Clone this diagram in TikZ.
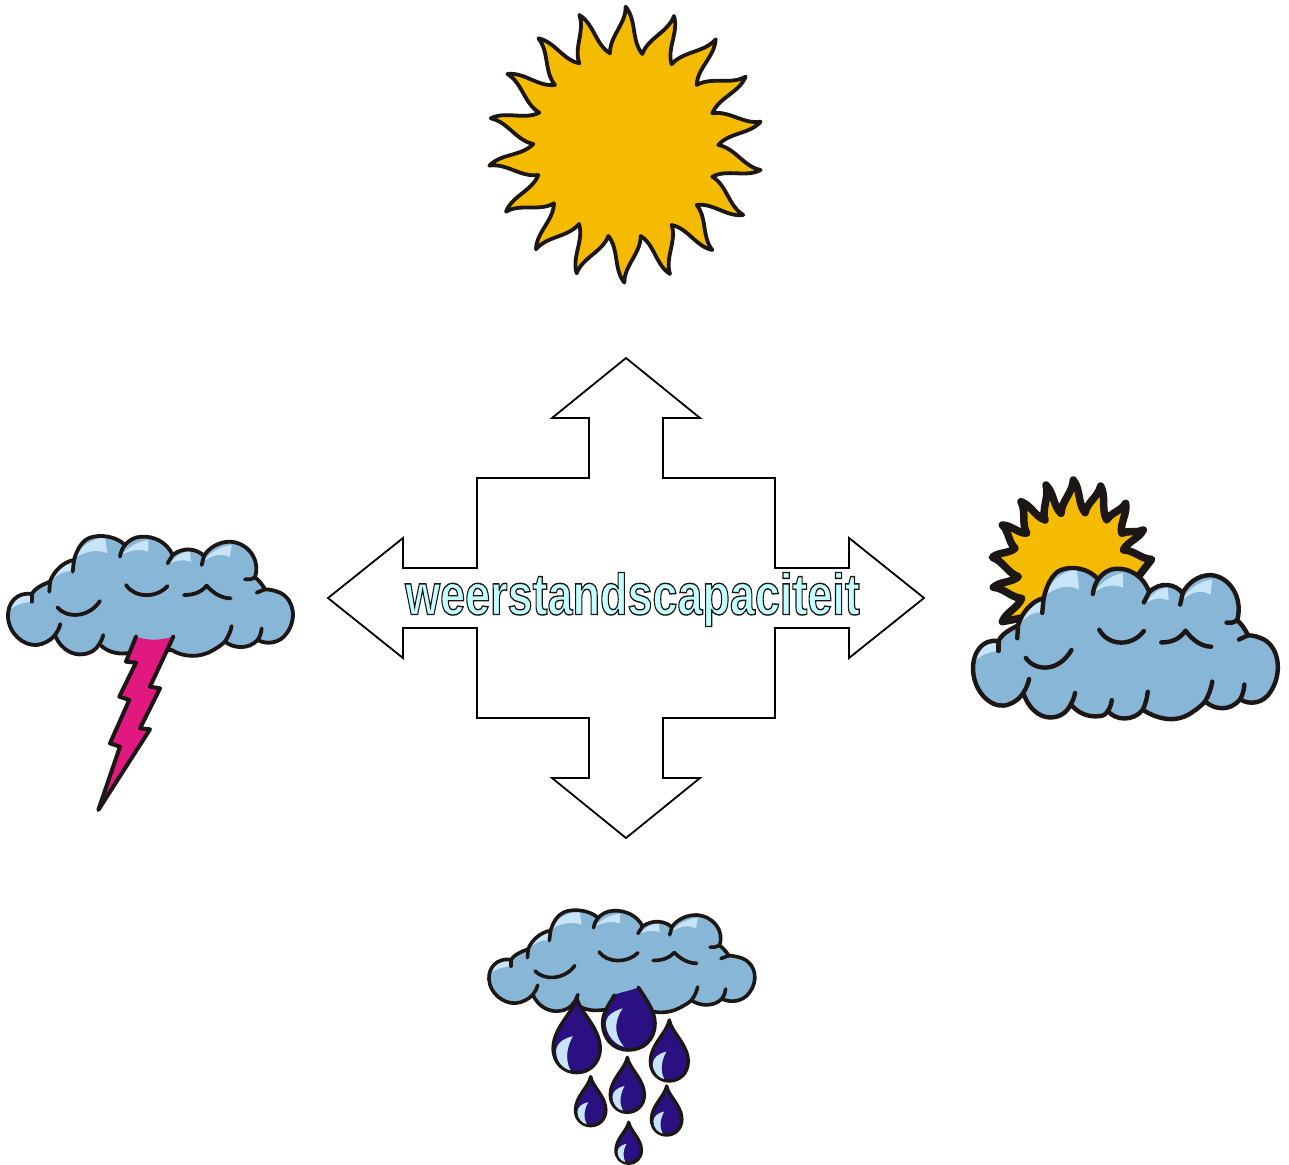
\documentclass[tikz,border=0pt]{standalone}
\usepackage{fontspec}
\setmainfont{Liberation Sans}
\usetikzlibrary{calc}

\definecolor{cloudblue}{HTML}{88B6D7}
\definecolor{shineblue}{HTML}{C8E4F8}
\definecolor{sunyellow}{HTML}{F4BB00}
\definecolor{boltpink}{HTML}{E0187F}
\definecolor{dropblue}{HTML}{2A1080}
\definecolor{inkblack}{HTML}{1C1714}
\definecolor{wordcyan}{HTML}{C4FFFF}

\tikzset{
  inkline/.style={draw=inkblack, line width=#1, line cap=round, line join=round},
  inkline/.default=3.2pt
}

% Outline of a cloud, #1 = the bottom stretch between the outer lobes
\newcommand{\cloudpath}[1]{
  (95,222) .. controls (50,215) and (22,250) .. (24,290)
  .. controls (26,340) and (70,378) .. (110,375)
  .. controls (130,373) and (152,362) .. (165,345)
  .. controls (185,395) and (225,405) .. (245,403)
  .. controls (270,402) and (288,390) .. (298,372)
  .. controls (320,395) and (350,403) .. (378,400)
  #1
  .. controls (700,385) and (745,390) .. (773,360)
  .. controls (800,375) and (840,370) .. (860,340)
  .. controls (890,300) and (885,240) .. (840,218)
  .. controls (825,212) and (810,208) .. (795,208)
  .. controls (785,190) and (775,180) .. (765,172)
  .. controls (782,120) and (745,68) .. (690,65)
  .. controls (655,65) and (625,85) .. (612,108)
  .. controls (590,85) and (550,80) .. (518,105)
  .. controls (500,65) and (460,48) .. (425,50)
  .. controls (405,50) and (385,62) .. (375,75)
  .. controls (350,50) and (300,40) .. (265,55)
  .. controls (245,65) and (230,90) .. (222,120)
  .. controls (190,125) and (160,155) .. (150,185)
  .. controls (125,195) and (105,205) .. (95,222) -- cycle
}

% #1 = line width, #2 = bottom stretch, #3 = extra creases
\newcommand{\drawcloud}[3]{
  \fill[cloudblue] \cloudpath{#2};
  \fill[shineblue] (28,270) .. controls (40,235) and (65,222) .. (95,218) -- (92,245) .. controls (70,248) and (45,255) .. (28,270) -- cycle;
  \fill[shineblue] (150,185) .. controls (165,160) and (190,135) .. (218,125) -- (215,155) .. controls (195,150) and (170,165) .. (150,185) -- cycle;
  \fill[shineblue] (222,115) .. controls (240,80) and (275,55) .. (315,52) -- (322,100) .. controls (290,85) and (255,95) .. (222,115) -- cycle;
  \fill[shineblue] (365,105) .. controls (380,85) and (410,65) .. (445,60) -- (445,95) .. controls (420,85) and (390,90) .. (365,105) -- cycle;
  \fill[shineblue] (510,130) .. controls (530,105) and (550,95) .. (570,95) -- (573,125) .. controls (550,118) and (530,120) .. (510,130) -- cycle;
  \fill[shineblue] (610,125) .. controls (630,95) and (660,80) .. (695,75) -- (690,112) .. controls (665,98) and (635,105) .. (610,125) -- cycle;
  \draw[inkline=#1] \cloudpath{#2};
  \draw[inkline=#1] (165,345) .. controls (172,335) and (178,325) .. (181,312);
  \draw[inkline=#1] (298,372) .. controls (303,365) and (308,355) .. (310,345);
  \draw[inkline=#1] (675,365) .. controls (685,350) and (692,335) .. (695,318);
  \draw[inkline=#1] (773,360) .. controls (780,350) and (784,338) .. (785,325);
  \draw[inkline=#1] (222,120) -- (218,155);
  \draw[inkline=#1] (150,185) -- (148,215);
  \draw[inkline=#1] (95,222) -- (95,245);
  \draw[inkline=#1] (375,75) .. controls (367,85) and (362,97) .. (360,110);
  \draw[inkline=#1] (518,105) -- (503,130);
  \draw[inkline=#1] (612,108) -- (605,135);
  \draw[inkline=#1] (765,172) .. controls (755,178) and (745,180) .. (735,178);
  \draw[inkline=#1] (795,208) -- (770,218);
  \draw[inkline=#1] (172,262) .. controls (200,295) and (265,295) .. (300,243);
  \draw[inkline=#1] (378,195) .. controls (405,235) and (470,235) .. (503,198);
  \draw[inkline=#1] (552,225) .. controls (585,225) and (605,215) .. (620,197) .. controls (640,220) and (665,235) .. (692,235);
  #3
}

% #1 = x of tip, #2 = y of tip, #3 = height
\newcommand{\raindrop}[3]{
  \begin{scope}[shift={(#1,#2)}, scale=#3]
    \filldraw[fill=dropblue, inkline=3.4pt] (0,0) .. controls (0.03,.2) and (.31,.4) .. (.31,.68)
      .. controls (.31,.88) and (.16,1) .. (0,1) .. controls (-.16,1) and (-.31,.88) .. (-.31,.68)
      .. controls (-.31,.4) and (-.03,.2) .. (0,0) -- cycle;
    \fill[shineblue] (-.05,.52) .. controls (-.18,.55) and (-.27,.62) .. (-.27,.72)
      .. controls (-.27,.85) and (-.18,.95) .. (-.08,.97) .. controls (-.13,.88) and (-.16,.72) .. (-.05,.52) -- cycle;
  \end{scope}
}

% text painted with fill and stroke
\newcommand{\outlined}[1]{\special{pdf:code q 2 Tr 1.4 w 0.11 0.09 0.08 RG}#1\special{pdf:code Q}}

\begin{document}
\begin{tikzpicture}[x=1pt, y=-1pt]
  \useasboundingbox (0,0) rectangle (1289,1164);
  \fill[white] (0,0) rectangle (1289,1164);

  % big sun on top
  \begin{scope}[shift={(480,0)}, scale=0.3333]
    \filldraw[fill=sunyellow, inkline=3.8pt] (437,20)
      \foreach \bx/\by [remember=\bx as \ax (initially 437), remember=\by as \ay (initially 20)] in {
        487/162, 582/48, 575/193, 707/118, 650/255, 797/230, 697/340, 842/365, 715/435, 842/510,
        697/530, 790/645, 650/615, 697/750, 575/675, 570/822, 482/708, 433/848, 385/708, 290/820,
        297/672, 168/748, 222/610, 78/635, 175/525, 28/497, 160/432, 32/355, 178/338, 82/222,
        225/255, 175/115, 298/190, 298/45, 390/160, 437/20}
      { .. controls ($(\ax,\ay)!.35!20:(\bx,\by)$) and ($(\bx,\by)!.35!20:(\ax,\ay)$) .. (\bx,\by) } -- cycle;
  \end{scope}

  % cross of four arrows
  \draw[line width=1.8pt, fill=white, line join=miter] (626,358) -- (700,418) -- (663,418) -- (663,478)
    -- (775,478) -- (775,568) -- (849,568) -- (849,538) -- (924,598) -- (849,658) -- (849,628)
    -- (775,628) -- (775,718) -- (663,718) -- (663,778) -- (700,778) -- (626,838) -- (552,778)
    -- (589,778) -- (589,718) -- (477,718) -- (477,628) -- (403,628) -- (403,658) -- (328,598)
    -- (403,538) -- (403,568) -- (477,568) -- (477,478) -- (589,478) -- (589,418) -- (552,418) -- cycle;
  \node[font=\bfseries\fontsize{58}{58}\selectfont, xscale=0.775, transform shape, text=wordcyan, inner sep=0pt] (capacity) at (632.5,599.5)
    {\outlined{weerstandscapaciteit}};

  % storm cloud on the left
  \begin{scope}[shift={(0,520)}, scale=0.3333]
    \drawcloud{3.8pt}{-- (515,390) .. controls (550,412) and (600,415) .. (640,390) .. controls (655,382) and (668,372) .. (675,365)}{}
    \fill[boltpink] (408,350) -- (378,425) -- (408,428) -- (358,530) -- (388,540) -- (330,670) -- (360,680)
      -- (295,870) -- (450,628) -- (420,625) -- (480,505) -- (450,500) -- (520,350) .. controls (480,362) and (440,362) .. (408,350) -- cycle;
    \draw[inkline=4pt] (408,350) -- (378,425) -- (408,428) -- (358,530) -- (388,540) -- (330,670) -- (360,680)
      -- (295,870) -- (450,628) -- (420,625) -- (480,505) -- (450,500) -- (520,350);
  \end{scope}

  % sun behind a cloud on the right
  \begin{scope}[shift={(965,470)}, scale=0.3333]
    \filldraw[fill=sunyellow, inkline=7.5pt] (112,455)
      \foreach \bx/\by [remember=\bx as \ax (initially 112), remember=\by as \ay (initially 455)] in {
        170/385, 85/352, 160/320, 82/262, 150/235, 112/165, 185/190, 168/95, 240/150, 243/45, 288/130,
        325/30, 360/128, 407/48, 425/150, 482/100, 470/190, 535/180, 475/240, 560/268}
      { .. controls ($(\ax,\ay)!.35!18:(\bx,\by)$) and ($(\bx,\by)!.35!18:(\ax,\ay)$) .. (\bx,\by) } -- (520,320) -- (300,420) -- cycle;
  \end{scope}
  \begin{scope}[shift={(964.5,547.7)}, xscale=0.3565, yscale=0.421]
    \drawcloud{4.4pt}{.. controls (388,400) and (396,396) .. (402,388) .. controls (425,412) and (475,412) .. (500,385) .. controls (550,412) and (600,415) .. (640,390) .. controls (655,382) and (668,372) .. (675,365)}{
      \draw[inkline=4.4pt] (402,388) .. controls (408,380) and (412,372) .. (413,362);
      \draw[inkline=4.4pt] (500,385) .. controls (507,373) and (512,358) .. (514,342);
    }
  \end{scope}

  % rain cloud at the bottom
  \begin{scope}[shift={(481.5,896.5)}, xscale=0.311, yscale=0.2843]
    \drawcloud{3.6pt}{-- (515,390) .. controls (550,412) and (600,415) .. (640,390) .. controls (655,382) and (668,372) .. (675,365)}{}
  \end{scope}
  \begin{scope}[shift={(480,900)}, scale=0.3333]
    \fill[dropblue] (475,262) .. controls (500,300) and (525,335) .. (525,370) .. controls (525,420) and (490,450) .. (445,450)
      .. controls (400,450) and (368,415) .. (368,370) .. controls (368,335) and (390,310) .. (403,285)
      .. controls (425,275) and (455,272) .. (475,262) -- cycle;
    \fill[shineblue] (428,325) .. controls (395,335) and (376,350) .. (378,375) .. controls (380,405) and (405,435) .. (432,440)
      .. controls (410,415) and (395,375) .. (428,325) -- cycle;
    \draw[inkline=3.6pt] (475,262) .. controls (500,300) and (525,335) .. (525,370) .. controls (525,420) and (490,450) .. (445,450)
      .. controls (400,450) and (368,415) .. (368,370) .. controls (368,335) and (390,310) .. (403,285);
    \raindrop{290}{290}{228}
    \raindrop{568}{360}{183}
    \raindrop{442}{472}{165}
    \raindrop{332}{530}{147}
    \raindrop{560}{558}{147}
    \raindrop{446}{667}{123}
  \end{scope}
\end{tikzpicture}
\end{document}
